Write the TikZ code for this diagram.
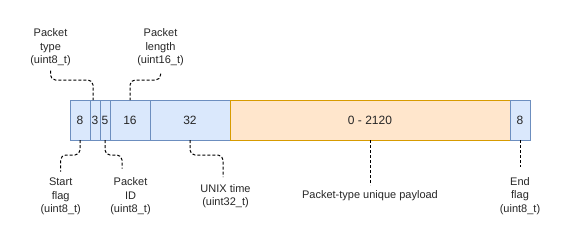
\documentclass[tikz,border=0pt]{standalone}
\usepackage{fontspec}
\setmainfont{Liberation Sans}
\usetikzlibrary{positioning}

\definecolor{fieldfill}{HTML}{DAE8FC}
\definecolor{fieldline}{HTML}{6C8EBF}
\definecolor{datafill}{HTML}{FFE6CC}
\definecolor{dataline}{HTML}{D79B00}

\begin{document}
\begin{tikzpicture}[
  x=1pt, y=-1pt, line width=1pt,
  node distance=0pt,
  field/.style={draw=fieldline,fill=fieldfill,minimum height=40pt,inner sep=0pt,outer sep=0pt,font=\fontsize{12}{14}\selectfont,text=black!85},
  payload/.style={field,draw=dataline,fill=datafill},
  lbl/.style={align=center,inner sep=0pt,anchor=north,font=\fontsize{11}{13.5}\selectfont,text=black!85},
  leader/.style={dash pattern=on 3pt off 2pt,rounded corners=5pt}
]
\useasboundingbox (0,0) rectangle (571,241);

% packet fields, left to right
\node[field,minimum width=20pt,anchor=north west] (start) at (70,100) {8};
\node[field,minimum width=10pt,right=of start] (type) {3};
\node[field,minimum width=10pt,right=of type] (id) {5};
\node[field,minimum width=40pt,right=of id] (length) {16};
\node[field,minimum width=80pt,right=of length] (time) {32};
\node[payload,minimum width=280pt,right=of time] (data) {0 - 2120};
\node[field,minimum width=20pt,right=of data] (end) {8};

% descriptions
\node[lbl] (typelbl) at (50.5,28.3) {Packet\\type\\(uint8\_t)};
\node[lbl] (lengthlbl) at (160.5,28.3) {Packet\\length\\(uint16\_t)};
\node[lbl] (startlbl) at (60.7,177.5) {Start\\flag\\(uint8\_t)};
\node[lbl] (idlbl) at (130.5,177.5) {Packet\\ID\\(uint8\_t)};
\node[lbl] (timelbl) at (225.5,184) {UNIX time\\(uint32\_t)};
\node[lbl] (datalbl) at (370,190) {Packet-type unique payload};
\node[lbl] (endlbl) at (520,177) {End\\flag\\(uint8\_t)};

\coordinate (toprow) at (0,80);
\coordinate (botrow) at (0,155);

% leaders
\draw[leader] ([yshift=-4pt]typelbl.south) -- (typelbl.south |- toprow) -| ([xshift=-2pt]type.north);
\draw[leader] ([yshift=-7pt]lengthlbl.south) -- (lengthlbl.south |- toprow) -| (length.north);
\draw[leader] (start.south) -- (start.south |- botrow) -| ([yshift=6pt]startlbl.north);
\draw[leader] (id.south) -- (id.south |- botrow) -| ([xshift=-8.5pt,yshift=9pt]idlbl.north);
\draw[leader] (time.south) -- (time.south |- botrow) -| ([xshift=-2.5pt,yshift=7pt]timelbl.north);
\draw[leader] (data.south) -- ([yshift=5pt]datalbl.north);
\draw[leader] (end.south) -- ([yshift=10pt]endlbl.north);
\end{tikzpicture}
\end{document}
